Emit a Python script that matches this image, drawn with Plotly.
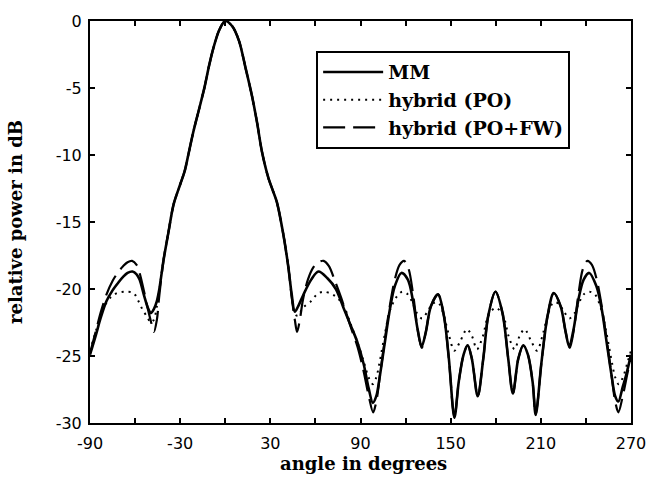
import plotly.graph_objects as go

# ---- data (angle in degrees, relative power in dB) ----
main_lobe_angle = [-41, -37.7, -34.4, -30, -27, -24.6, -21.3, -17, -13.7, -10.5, -7.2, -3.9, 0,
                   4.8, 9.2, 13.5, 17.9, 21.2, 24.5, 28.8, 31.5, 34.3, 38.6, 41.9]
main_lobe_power = [-17.8, -15.7, -13.7, -12.2, -11.2, -10.0, -8.3, -6.4, -4.9, -3.2, -1.75, -0.65, 0,
                   -0.41, -1.5, -3.5, -5.65, -7.6, -9.8, -11.75, -12.6, -13.5, -15.9, -18.3]

mm_left_angle = [-90, -86, -83, -79, -75, -71, -68, -65, -61.7, -59, -57, -54, -51.5, -49.5,
                 -47.5, -45.5, -44]
mm_left_power = [-24.9, -23.4, -22.2, -20.9, -20.1, -19.5, -19.1, -18.8, -18.7, -18.9, -19.3, -20.5,
                 -21.4, -21.8, -21.5, -20.9, -20.1]
mm_right_angle = [44.1, 46.3, 48.5, 51.7, 57.2, 62, 68, 73.6, 79, 83.4, 87.7, 92.1, 95.4, 98.2, 100.5,
                  103, 106.3, 109.6, 112.8, 117.2, 121.5, 124.8, 128, 130.7, 133.5, 136.8, 141.6,
                  145.5, 148.8, 152.5, 155.4, 158.6, 161.3, 164.1, 168, 171.7, 175, 179.8, 184.5,
                  188.3, 191.4, 195, 198.3, 201.4, 204.6, 206.6, 210.5, 214.5, 218.6, 223.2, 226.5,
                  228.9, 231.8, 235, 238.5, 242.2, 247, 250.5, 253.7, 257, 259.5, 261.6, 264.5,
                  266.6, 270]
mm_right_power = [-20.3, -21.7, -21.3, -20.5, -19.3, -18.7, -19.2, -20.0, -21.5, -22.7, -23.9, -25.6,
                  -27.4, -28.5, -28.0, -26.4, -23.9, -21.5, -19.8, -18.8, -19.3, -20.8, -23.0, -24.3,
                  -23.2, -21.3, -20.4, -22.0, -25.2, -29.6, -26.9, -24.9, -24.2, -25.2, -28.0, -25.2,
                  -22.0, -20.2, -21.8, -25.2, -27.8, -25.2, -24.2, -24.9, -27.0, -29.4, -25.4, -22.0,
                  -20.3, -21.3, -23.2, -24.3, -23.0, -20.8, -19.3, -18.8, -19.8, -21.5, -23.9, -26.4,
                  -28.0, -28.4, -27.3, -26.5, -24.9]

po_left_angle = [-90, -86, -83, -80, -76, -72, -66.5, -61, -57.8, -55.2, -51.9, -49.5, -47.5,
                 -45.5, -44]
po_left_power = [-24.6, -23.1, -22.0, -21.2, -20.6, -20.3, -20.2, -20.3, -20.9, -21.5, -22.1, -22.5,
                 -22.3, -21.3, -20.2]
po_right_angle = [44.1, 46.5, 48.5, 51.7, 57.2, 61, 65.4, 71.3, 75, 79, 83.4, 87.7, 92.1, 95.4, 98.2,
                  100.5, 102.5, 106.3, 109.6, 113.9, 117.8, 121.5, 124.5, 127.5, 131, 134.5, 138,
                  141.6, 145, 148.5, 152.5, 156.4, 160.8, 164.1, 167.5, 171.5, 175, 180, 185, 188.5,
                  192.5, 195.9, 199.2, 203.6, 207.5, 211.5, 215, 218.4, 222, 225.5, 229, 232.5,
                  235.5, 238.5, 242.2, 246, 250.4, 253.7, 257.5, 259.5, 261.8, 264.6, 267.9, 270]
po_right_power = [-20.3, -21.9, -22.0, -21.4, -20.9, -20.4, -20.2, -20.4, -20.7, -21.3, -22.6, -23.9,
                  -25.4, -26.6, -27.1, -26.6, -25.6, -23.3, -21.6, -20.6, -20.2, -20.4, -21.0, -21.8,
                  -22.2, -21.7, -21.1, -21.0, -21.8, -23.3, -24.6, -23.9, -23.0, -23.5, -24.5, -23.5,
                  -22.0, -21.4, -22.0, -23.5, -24.5, -23.5, -23.0, -23.9, -24.6, -23.3, -21.8, -21.0,
                  -21.1, -21.7, -22.2, -21.8, -21.0, -20.4, -20.2, -20.4, -21.6, -23.3, -25.6, -26.6,
                  -27.1, -26.6, -25.4, -24.6]

fw_left_angle = [-90, -86, -83, -79, -75, -71, -68, -65, -62, -59, -57, -54, -51.5, -49.5, -47.5,
                 -45.5, -44]
fw_left_power = [-24.8, -23.1, -21.8, -20.4, -19.4, -18.7, -18.3, -18.0, -17.9, -18.2, -18.8, -20.2,
                 -21.5, -22.4, -23.2, -22.3, -20.6]
fw_right_angle = [44.1, 46.3, 47.8, 49.5, 51.7, 55, 58.5, 62, 65.5, 69, 73, 77, 80.5, 84, 88, 92,
                  95.5, 98.4, 100.5, 103, 106.3, 109.6, 112.8, 116, 119, 122, 125, 128, 130.7, 133.5,
                  136.8, 141.6, 145.5, 148.8, 152.5, 155.4, 158.6, 161.3, 164.1, 168, 171.7, 175,
                  179.8, 184.5, 188.3, 191.4, 195, 198.3, 201.4, 204.6, 206.6, 210.5, 214.5, 218.6,
                  223.2, 226.5, 229.3, 232, 235, 238, 241, 244, 247.2, 250.4, 253.7, 257, 259.5,
                  261.6, 264.5, 268, 270]
fw_right_power = [-20.5, -22.3, -23.2, -22.4, -20.8, -19.3, -18.4, -18.0, -17.9, -18.3, -19.4, -20.6,
                  -21.8, -23.0, -24.3, -26.1, -28.0, -29.2, -28.4, -26.4, -23.7, -21.2, -19.3, -18.2,
                  -17.9, -18.5, -20.4, -23.0, -24.4, -23.2, -21.3, -20.4, -22.0, -25.2, -29.6, -26.9,
                  -24.9, -24.2, -25.2, -28.0, -25.2, -22.0, -20.2, -21.8, -25.2, -27.8, -25.2, -24.2,
                  -24.9, -27.0, -29.4, -25.4, -22.0, -20.3, -21.3, -23.2, -24.4, -23.0, -20.4, -18.5,
                  -17.9, -18.2, -19.3, -21.2, -23.7, -26.4, -28.4, -29.2, -28.0, -26.1, -25.2]

series_names = ["MM", "hybrid (PO)", "hybrid (PO+FW)"]
x_tick_values = [-90, -60, -30, 0, 30, 60, 90, 120, 150, 180, 210, 240, 270]
x_tick_labels = ["-90", "", "-30", "", "30", "", "90", "", "150", "", "210", "", "270"]
y_tick_values = [0, -5, -10, -15, -20, -25, -30]
y_tick_labels = ["0", "-5", "-10", "-15", "-20", "-25", "-30"]
x_title = "angle in degrees"
y_title = "relative power in dB"

mm_angle = mm_left_angle + main_lobe_angle + mm_right_angle
mm_power = mm_left_power + main_lobe_power + mm_right_power
po_angle = po_left_angle + main_lobe_angle + po_right_angle
po_power = po_left_power + main_lobe_power + po_right_power
fw_angle = fw_left_angle + main_lobe_angle + fw_right_angle
fw_power = fw_left_power + main_lobe_power + fw_right_power

fig = go.Figure()
fig.add_trace(go.Scatter(x=mm_angle, y=mm_power, mode="lines", name=series_names[0],
                         line=dict(color="black", width=2.6, shape="spline", smoothing=0.9)))
fig.add_trace(go.Scatter(x=po_angle, y=po_power, mode="lines", name=series_names[1],
                         line=dict(color="black", width=2, dash="2px,5px", shape="spline",
                                   smoothing=0.9)))
fig.add_trace(go.Scatter(x=fw_angle, y=fw_power, mode="lines", name=series_names[2],
                         line=dict(color="black", width=2.2, dash="22px,8px", shape="spline",
                                   smoothing=0.9)))

serif = "DejaVu Serif"
sans = "DejaVu Sans"

fig.update_layout(
    width=658, height=480,
    margin=dict(l=90, r=16, t=13, b=57),
    paper_bgcolor="white", plot_bgcolor="white",
    showlegend=True,
    legend=dict(x=0.418, y=0.925, xanchor="left", yanchor="top",
                bordercolor="black", borderwidth=2, bgcolor="white",
                font=dict(family=serif, size=19, color="black", weight="bold"),
                itemwidth=60, tracegroupgap=0),
    xaxis=dict(range=[-90, 270], tickmode="array", tickvals=x_tick_values, ticktext=x_tick_labels,
               ticks="inside", ticklen=5, tickwidth=1.5, tickcolor="black",
               showline=True, linecolor="black", linewidth=2, mirror="ticks",
               showgrid=False, zeroline=False,
               tickfont=dict(family=sans, size=16, color="black"),
               ticklabelstandoff=5),
    yaxis=dict(range=[-30, 0], tickmode="array", tickvals=y_tick_values, ticktext=y_tick_labels,
               ticks="inside", ticklen=5, tickwidth=1.5, tickcolor="black",
               showline=True, linecolor="black", linewidth=2, mirror="ticks",
               showgrid=False, zeroline=False,
               tickfont=dict(family=sans, size=16, color="black"),
               ticklabelstandoff=3,
               title=dict(text=y_title,
                          font=dict(family=serif, size=18, color="black", weight="bold"),
                          standoff=28)),
    annotations=[dict(text=x_title, xref="paper", yref="paper", x=0.505, y=-0.101,
                      xanchor="center", yanchor="middle", showarrow=False,
                      font=dict(family=serif, size=18, color="black", weight="bold"))],
)

fig.write_html("out.html")
